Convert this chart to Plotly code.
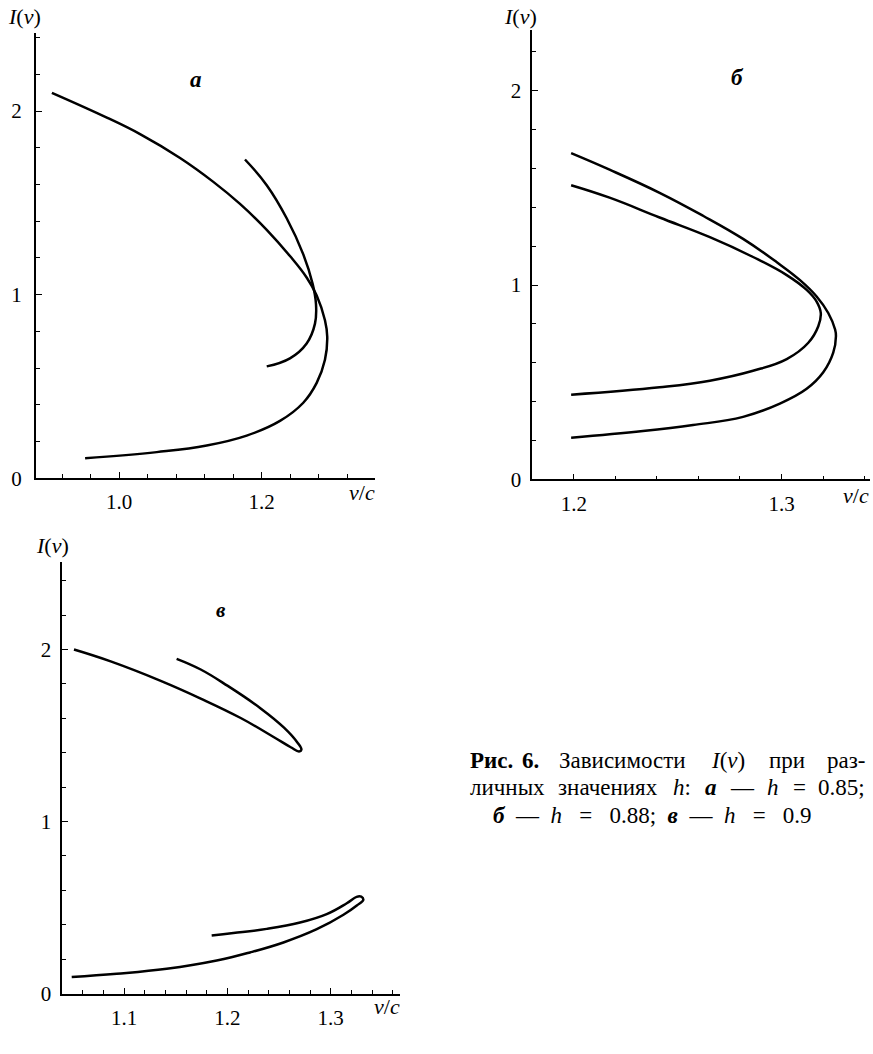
import plotly.graph_objects as go

# ---------------- data ----------------
# panel а: h = 0.85
a1_x = [0.9057, 0.9828, 1.0294, 1.0855, 1.1322, 1.1696, 1.2071, 1.2397, 1.2631, 1.2772, 1.2888, 1.2920, 1.2888, 1.2772, 1.2584, 1.2257, 1.1790, 1.1229, 1.0529, 0.9523]
a1_y = [2.099, 1.964, 1.874, 1.744, 1.614, 1.494, 1.353, 1.210, 1.093, 0.995, 0.860, 0.770, 0.645, 0.519, 0.411, 0.312, 0.232, 0.178, 0.142, 0.109]
a2_x = [1.1766, 1.2071, 1.2351, 1.2584, 1.2716, 1.2762, 1.2748, 1.2631, 1.2397, 1.2071]
a2_y = [1.736, 1.596, 1.416, 1.219, 1.057, 0.949, 0.842, 0.734, 0.653, 0.609]

# panel б: h = 0.88
b1_x = [1.1987, 1.2172, 1.2413, 1.2622, 1.2815, 1.2976, 1.3089, 1.3169, 1.3225, 1.3258, 1.3262, 1.3249, 1.3201, 1.3121, 1.2992, 1.2815, 1.2574, 1.2333, 1.1987]
b1_y = [1.678, 1.593, 1.474, 1.356, 1.237, 1.118, 1.025, 0.941, 0.856, 0.771, 0.737, 0.652, 0.551, 0.466, 0.390, 0.322, 0.280, 0.249, 0.215]
b2_x = [1.1987, 1.2172, 1.2413, 1.2655, 1.2863, 1.3025, 1.3121, 1.3169, 1.3189, 1.3177, 1.3129, 1.3025, 1.2863, 1.2655, 1.2413, 1.1987]
b2_y = [1.513, 1.449, 1.347, 1.246, 1.144, 1.051, 0.975, 0.915, 0.856, 0.788, 0.703, 0.619, 0.559, 0.508, 0.474, 0.436]

# panel в: h = 0.9
c1_x = [1.0516, 1.0871, 1.1355, 1.1742, 1.2129, 1.2451, 1.2613, 1.2693, 1.2716, 1.2677, 1.2548, 1.2322, 1.2000, 1.1742, 1.1509]
c1_y = [2.000, 1.931, 1.818, 1.715, 1.602, 1.490, 1.432, 1.408, 1.418, 1.460, 1.546, 1.658, 1.790, 1.884, 1.946]
c2_x = [1.0494, 1.0929, 1.1413, 1.1897, 1.2219, 1.2542, 1.2865, 1.3123, 1.3252, 1.3315, 1.3295, 1.3250, 1.3155, 1.2961, 1.2703, 1.2381, 1.2058, 1.1848]
c2_y = [0.096, 0.115, 0.144, 0.192, 0.239, 0.297, 0.374, 0.458, 0.512, 0.545, 0.563, 0.562, 0.525, 0.462, 0.413, 0.376, 0.352, 0.338]

W, H = 873, 1054
SERIF = "Liberation Serif"

fig = go.Figure()
curves = [(a1_x, a1_y, "x", "y"), (a2_x, a2_y, "x", "y"),
          (b1_x, b1_y, "x2", "y2"), (b2_x, b2_y, "x2", "y2"),
          (c1_x, c1_y, "x3", "y3"), (c2_x, c2_y, "x3", "y3")]
for xs, ys, xa, ya in curves:
    fig.add_trace(go.Scatter(x=xs, y=ys, xaxis=xa, yaxis=ya, mode="lines",
                             line=dict(color="black", width=2.5, shape="spline", smoothing=1.2),
                             showlegend=False, hoverinfo="skip"))

def px_x(p):
    return p / W

def px_y(p):
    return (H - p) / H

def axis(domain, rng, dtick, tick0, minor_dtick, fmt=None):
    d = dict(domain=domain, range=rng, showline=True, linecolor="black", linewidth=1.7,
             showgrid=False, zeroline=False, ticks="inside", ticklen=6, tickwidth=1.4,
             tickcolor="black", dtick=dtick, tick0=tick0,
             tickfont=dict(family=SERIF, size=21, color="black"),
             minor=dict(ticks="inside", ticklen=4, tickwidth=1.2, tickcolor="black",
                        dtick=minor_dtick, tick0=tick0, showgrid=False),
             fixedrange=True)
    if fmt:
        d["tickformat"] = fmt
    return d

# panel а
xa = axis([px_x(35.7), px_x(375)], [0.883, 1.359], 0.2, 1.0, 0.04, ".1f")
xa.update(anchor="y", ticklabelstandoff=4)
ya = axis([px_y(483.7), px_y(33)], [0, 2.427], 1, 0, 0.2)
ya.update(anchor="x", ticklabelstandoff=8)
# panel б
xb = axis([px_x(532.3), px_x(870)], [1.18, 1.3426], 0.1, 1.2, 0.02, ".1f")
xb.update(anchor="y2", ticklabelstandoff=4)
yb = axis([px_y(485), px_y(30)], [0, 2.313], 1, 0, 0.2)
yb.update(anchor="x2", ticklabelstandoff=5)
# panel в
xc = axis([px_x(62.3), px_x(400)], [1.0403, 1.367], 0.1, 1.1, 0.02, ".1f")
xc.update(anchor="y3", ticklabelstandoff=4)
yc = axis([px_y(1005), px_y(568.3)], [0, 2.51], 1, 0, 0.2)
yc.update(anchor="x3", ticklabelstandoff=5)

fig.update_layout(xaxis=xa, yaxis=ya, xaxis2=xb, yaxis2=yb, xaxis3=xc, yaxis3=yc)

ann = []
def text(x, y, t, size=22, xanchor="center"):
    ann.append(dict(x=px_x(x), y=px_y(y), xref="paper", yref="paper", text=t,
                    showarrow=False, xanchor=xanchor, yanchor="middle",
                    font=dict(family=SERIF, size=size, color="black")))

IV = "<i>I</i>(<i>v</i>)"
VC = "<i>v</i>/<i>c</i>"
text(24, 17, IV)
text(520, 17, IV)
text(52, 552, IV)
text(362, 498, VC)
text(856, 501, VC)
text(387, 1018, VC)
text(196, 80, "<b><i>а</i></b>", 23)
text(737, 78, "<b><i>б</i></b>", 23)
text(221, 617, "<b><i>в</i></b>", 21)

CAP = 23
# line 1 (justified)
text(468, 769, "<b>Рис.</b>", CAP, "left")
text(520, 769, "<b>6.</b>", CAP, "left")
text(622.2, 769, "Зависимости", CAP)
text(728, 769, "<i>I</i>(<i>v</i>)", CAP)
text(787.2, 769, "при", CAP)
text(867, 769, "раз-", CAP, "right")
# line 2 (justified)
text(468, 797, "личных", CAP, "left")
text(608.4, 797, "значениях", CAP)
text(682.2, 797, "<i>h</i>:", CAP)
text(711, 797, "<b><i>а</i></b>", CAP)
text(742.1, 797, "—", CAP)
text(773.3, 797, "<i>h</i>", CAP)
text(799.4, 797, "=", CAP)
text(867, 797, "0.85;", CAP, "right")
# line 3
S2 = "&nbsp;&nbsp;"
S3 = "&nbsp;&nbsp;&nbsp;"
text(652.5, 825, "<b><i>б</i></b>" + S2 + "—" + S2 + "<i>h</i>" + S3 + "=" + S3 + "0.88;" + S2 +
     "<b><i>в</i></b>" + S2 + "—" + S2 + "<i>h</i>" + S3 + "=" + S3 + "0.9", CAP, "center")

fig.update_layout(annotations=ann, width=W, height=H,
                  margin=dict(l=0, r=0, t=0, b=0),
                  paper_bgcolor="white", plot_bgcolor="white")

fig.write_html("out.html", config={"displayModeBar": False},
               post_script="document.body.style.margin='0px';document.body.style.overflow='hidden';")
